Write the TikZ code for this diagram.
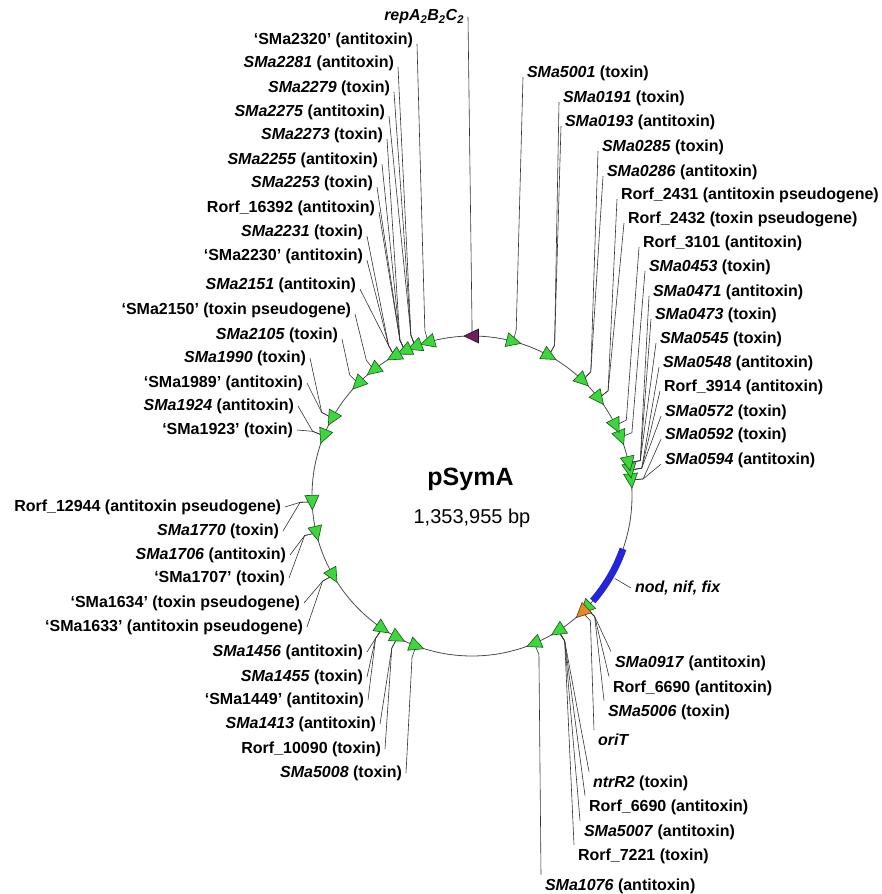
\documentclass[tikz,border=0pt]{standalone}
\usepackage{fontspec}
\setmainfont{Liberation Sans}

\definecolor{genegreen}{HTML}{3DD63D}
\definecolor{repviolet}{HTML}{6B2160}
\definecolor{oriorange}{HTML}{E08A2A}
\definecolor{symblue}{HTML}{2424D8}

\newcommand{\genefont}{\fontsize{16}{18}\selectfont\bfseries}

\tikzset{
  lt/.style={anchor=east, xshift=4pt, inner sep=0pt, outer sep=4pt, font=\genefont},
  rt/.style={anchor=west, xshift=-4pt, inner sep=0pt, outer sep=4pt, font=\genefont},
  leader/.style={black!80, line width=0.6pt},
  plasmid/.style={black!70, line width=0.8pt},
  ccw gene/.pic={\filldraw[fill=#1, draw=#1!40!black, line width=0.6pt] (0,8) -- (-7,-6.5) -- (7,-6.5) -- cycle;},
  cw gene/.pic={\filldraw[fill=#1, draw=#1!40!black, line width=0.6pt] (0,-8) -- (-7,6.5) -- (7,6.5) -- cycle;},
}

\begin{document}
\begin{tikzpicture}[x=1pt, y=1pt]
			\useasboundingbox (-472,-398) rectangle (409,496);
			\draw [plasmid] (0,0) circle (160pt);

			% positions on the circle and the knees of the leaders
			\foreach \n/\a in {1/90, 2/105.9, 3/110.8, 4/114.8, 5/119.0, 6/127.9, 7/135.3, 8/150.9, 9/157.9,
				10/182.1, 11/193.3, 12/209.7, 13/235.9, 14/242.2, 15/249.6,
				16/292.9, 17/302.6, 18/313.5, 19/315.5,
				20/5.7, 21/9.3, 22/11.9, 23/21.6, 24/26.2, 25/37.7, 26/46.3, 27/61.3, 28/75.1} {
				\coordinate (f\n) at (\a:160pt);
				\coordinate (k\n) at (\a:172pt);
			}
			\coordinate (nodm) at (330:165pt);

			\node (title) at (-1.5, 17) {\fontsize{25}{28}\selectfont\bfseries pSymA};
			\node (size) at (0, -22) {\fontsize{20}{22}\selectfont 1,353,955 bp};

			\node [lt] (repA) at (-8, 479) {\textit{repA\textsubscript{2}B\textsubscript{2}C\textsubscript{2}}};
			\node [lt] (l2320) at (-59, 456) {`SMa2320' (antitoxin)};
			\node [lt] (l2281) at (-78, 433) {\textit{SMa2281} (antitoxin)};
			\node [lt] (l2279) at (-82, 408) {\textit{SMa2279} (toxin)};
			\node [lt] (l2275) at (-87, 384) {\textit{SMa2275} (antitoxin)};
			\node [lt] (l2273) at (-89, 361) {\textit{SMa2273} (toxin)};
			\node [lt] (l2255) at (-94, 336) {\textit{SMa2255} (antitoxin)};
			\node [lt] (l2253) at (-99, 313) {\textit{SMa2253} (toxin)};
			\node [lt] (lR16392) at (-97, 288) {Rorf\_16392 (antitoxin)};
			\node [lt] (l2231) at (-109, 264) {\textit{SMa2231} (toxin)};
			\node [lt] (l2230) at (-109, 240) {`SMa2230' (antitoxin)};
			\node [lt] (l2151) at (-116, 211) {\textit{SMa2151} (antitoxin)};
			\node [lt] (l2150) at (-121, 186) {`SMa2150' (toxin pseudogene)};
			\node [lt] (l2105) at (-134, 161) {\textit{SMa2105} (toxin)};
			\node [lt] (l1990) at (-166, 138) {\textit{SMa1990} (toxin)};
			\node [lt] (l1989) at (-169, 113) {`SMa1989' (antitoxin)};
			\node [lt] (l1924) at (-178, 90) {\textit{SMa1924} (antitoxin)};
			\node [lt] (l1923) at (-179, 66) {`SMa1923' (toxin)};

			\node [lt] (lR12944) at (-191, -11) {Rorf\_12944 (antitoxin pseudogene)};
			\node [lt] (l1770) at (-193, -35) {\textit{SMa1770} (toxin)};
			\node [lt] (l1706) at (-186, -59) {\textit{SMa1706} (antitoxin)};
			\node [lt] (l1707) at (-187, -82) {`SMa1707' (toxin)};
			\node [lt] (l1634) at (-172, -107) {`SMa1634' (toxin pseudogene)};
			\node [lt] (l1633) at (-169, -131) {`SMa1633' (antitoxin pseudogene)};
			\node [lt] (l1456) at (-109, -156) {\textit{SMa1456} (antitoxin)};
			\node [lt] (l1455) at (-109, -181) {\textit{SMa1455} (toxin)};
			\node [lt] (l1449) at (-108, -204) {`SMa1449' (antitoxin)};
			\node [lt] (l1413) at (-96, -228) {\textit{SMa1413} (antitoxin)};
			\node [lt] (lR10090) at (-91, -253) {Rorf\_10090 (toxin)};
			\node [lt] (l5008) at (-70, -277) {\textit{SMa5008} (toxin)};

			\node [rt] (l5001) at (55, 423) {\textit{SMa5001} (toxin)};
			\node [rt] (l0191) at (91, 398) {\textit{SMa0191} (toxin)};
			\node [rt] (l0193) at (93, 374) {\textit{SMa0193} (antitoxin)};
			\node [rt] (l0285) at (130, 349) {\textit{SMa0285} (toxin)};
			\node [rt] (l0286) at (135, 324) {\textit{SMa0286} (antitoxin)};
			\node [rt] (lR2431) at (149, 301) {Rorf\_2431 (antitoxin pseudogene)};
			\node [rt] (lR2432) at (156, 277) {Rorf\_2432 (toxin pseudogene)};
			\node [rt] (lR3101) at (171, 253) {Rorf\_3101 (antitoxin)};
			\node [rt] (l0453) at (177, 229) {\textit{SMa0453} (toxin)};
			\node [rt] (l0471) at (181, 204) {\textit{SMa0471} (antitoxin)};
			\node [rt] (l0473) at (183, 181) {\textit{SMa0473} (toxin)};
			\node [rt] (l0545) at (188, 157) {\textit{SMa0545} (toxin)};
			\node [rt] (l0548) at (191, 133) {\textit{SMa0548} (antitoxin)};
			\node [rt] (lR3914) at (192, 109) {Rorf\_3914 (antitoxin)};
			\node [rt] (l0572) at (193, 84) {\textit{SMa0572} (toxin)};
			\node [rt] (l0592) at (193, 61) {\textit{SMa0592} (toxin)};
			\node [rt] (l0594) at (193, 36) {\textit{SMa0594} (antitoxin)};

			\node [rt] (lnod) at (163, -92) {\textit{nod, nif, fix}};
			\node [rt] (l0917) at (143, -167) {\textit{SMa0917} (antitoxin)};
			\node [rt] (lR6690a) at (141, -192) {Rorf\_6690 (antitoxin)};
			\node [rt] (l5006) at (136, -216) {\textit{SMa5006} (toxin)};
			\node [rt] (loriT) at (126, -244) {\textit{oriT}};
			\node [rt] (lntrR2) at (121, -287) {\textit{ntrR2} (toxin)};
			\node [rt] (lR6690b) at (117, -311) {Rorf\_6690 (antitoxin)};
			\node [rt] (l5007) at (112, -336) {\textit{SMa5007} (antitoxin)};
			\node [rt] (lR7221) at (106, -360) {Rorf\_7221 (toxin)};
			\node [rt] (l1076) at (73, -390) {\textit{SMa1076} (antitoxin)};

			% leaders
			\draw [leader] (repA.east) to (k1) to (f1);
			\draw [leader] (l2320.base east) to (k2) to (f2);
			\draw [leader] (l2281.base east) to (k3) to (f3);
			\draw [leader] (l2279.base east) to (k3) to (f3);
			\draw [leader] (l2275.base east) to (k3) to (f3);
			\draw [leader] (l2273.base east) to (k4) to (f4);
			\draw [leader] (l2255.base east) to (k4) to (f4);
			\draw [leader] (l2253.base east) to (k4) to (f4);
			\draw [leader] (lR16392.base east) to (k4) to (f4);
			\draw [leader] (l2231.base east) to (k5) to (f5);
			\draw [leader] (l2230.base east) to (k5) to (f5);
			\draw [leader] (l2151.base east) to (k5) to (f5);
			\draw [leader] (l2150.base east) to (k6) to (f6);
			\draw [leader] (l2105.base east) to (k7) to (f7);
			\draw [leader] (l1990.east) to (k8) to (f8);
			\draw [leader] (l1989.east) to (k8) to (f8);
			\draw [leader] (l1924.east) to (k9) to (f9);
			\draw [leader] (l1923.east) to (k9) to (f9);

			\draw [leader] (lR12944.east) to (k10) to (f10);
			\draw [leader] (l1770.east) to (k10) to (f10);
			\draw [leader] (l1706.east) to (k11) to (f11);
			\draw [leader] (l1707.east) to (k11) to (f11);
			\draw [leader] (l1634.east) to (k12) to (f12);
			\draw [leader] (l1633.east) to (k12) to (f12);
			\draw [leader] (l1456.east) to (k13) to (f13);
			\draw [leader] (l1455.east) to (k13) to (f13);
			\draw [leader] (l1449.east) to (k13) to (f13);
			\draw [leader] (l1413.east) to (k14) to (f14);
			\draw [leader] (lR10090.east) to (k14) to (f14);
			\draw [leader] (l5008.east) to (k15) to (f15);

			\draw [leader] (l5001.base west) to (k28) to (f28);
			\draw [leader] (l0191.base west) to (k27) to (f27);
			\draw [leader] (l0193.base west) to (k27) to (f27);
			\draw [leader] (l0285.base west) to (k26) to (f26);
			\draw [leader] (l0286.base west) to (k26) to (f26);
			\draw [leader] (lR2431.base west) to (k25) to (f25);
			\draw [leader] (lR2432.base west) to (k25) to (f25);
			\draw [leader] (lR3101.base west) to (k24) to (f24);
			\draw [leader] (l0453.base west) to (k23) to (f23);
			\draw [leader] (l0471.base west) to (k22) to (f22);
			\draw [leader] (l0473.base west) to (k22) to (f22);
			\draw [leader] (l0545.base west) to (k22) to (f22);
			\draw [leader] (l0548.base west) to (k21) to (f21);
			\draw [leader] (lR3914.base west) to (k21) to (f21);
			\draw [leader] (l0572.base west) to (k21) to (f21);
			\draw [leader] (l0592.base west) to (k20) to (f20);
			\draw [leader] (l0594.base west) to (k20) to (f20);

			\draw [leader] (nodm) to (lnod.west);
			\draw [leader] (l0917.north west) to (k19) to (f19);
			\draw [leader] (lR6690a.north west) to (k19) to (f19);
			\draw [leader] (l5006.north west) to (k19) to (f19);
			\draw [leader] (loriT.north west) to (k18) to (f18);
			\draw [leader] (lntrR2.north west) to (k17) to (f17);
			\draw [leader] (lR6690b.north west) to (k17) to (f17);
			\draw [leader] (l5007.north west) to (k17) to (f17);
			\draw [leader] (lR7221.north west) to (k17) to (f17);
			\draw [leader] (l1076.north west) to (k16) to (f16);

			% symbiotic region
			\draw [symblue, line width=7pt] (319:160pt) arc [start angle=319, end angle=340.7, radius=160pt];

			% genes
			\pic [rotate=90] at (f1) {ccw gene=repviolet};
			\foreach \n/\a in {2/105.9, 3/110.8, 4/114.8, 5/119.0, 6/127.9, 7/135.3, 8/150.9, 9/157.9,
				10/182.1, 11/193.3, 12/209.7, 13/235.9, 14/242.2, 15/249.6}
				\pic [rotate=\a] at (f\n) {ccw gene=genegreen};
			\foreach \n/\a in {16/292.9, 17/302.6, 19/315.5,
				20/5.7, 21/9.3, 22/11.9, 23/21.6, 24/26.2, 25/37.7, 26/46.3, 27/61.3, 28/75.1}
				\pic [rotate=\a] at (f\n) {cw gene=genegreen};
			\pic [rotate=313.5] at (f18) {cw gene=oriorange};
		\end{tikzpicture}
\end{document}
